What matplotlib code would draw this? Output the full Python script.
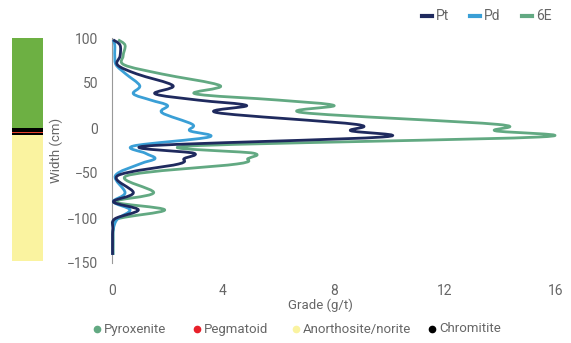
import matplotlib
matplotlib.use("Agg")
import matplotlib.pyplot as plt
from matplotlib.lines import Line2D
from matplotlib.path import Path
from matplotlib.patches import PathPatch
import numpy as np

# depth (cm) and grades (g/t)
depth = [98, 92, 80, 70, 60, 47, 38, 31, 25, 17, 4, -3, -10, -20, -28, -34, -40,
         -53, -72, -82, -91, -101, -112, -125, -141]
pt = [0.04, 0.29, 0.29, 0.2, 0.9, 2.2, 1.55, 3.1, 4.85, 3.8, 8.8, 8.6, 9.75, 1.25,
      2.95, 2.6, 2.4, 0.2, 0.77, 0.05, 0.95, 0.1, 0.03, 0.02, 0.02]
pd = [0.04, 0.1, 0.1, 0.15, 0.5, 1.0, 0.77, 1.4, 2.0, 1.8, 2.9, 2.8, 3.5, 0.77,
      1.2, 1.55, 1.0, 0.12, 0.47, 0.05, 0.65, 0.2, 0.05, 0.03, 0.03]
e6 = [0.22, 0.47, 0.4, 0.45, 1.8, 3.9, 3.0, 6.0, 8.0, 6.9, 13.9, 13.8, 15.4, 2.8,
      5.1, 4.9, 4.5, 0.54, 1.5, 0.1, 1.9, 0.2, 0.05, 0.04, 0.04]

# lithology column
layer_rock = ["Pyroxenite", "Chromitite", "Pegmatoid", "Chromitite", "Anorthosite/norite"]
layer_top = [100, 0, -4, -5.5, -8]
layer_base = [0, -4, -5.5, -8, -148]

x_ticks = [0, 4, 8, 12, 16]
y_ticks = [100, 50, 0, -50, -100, -150]

C_PT, C_PD, C_6E = "#1f2a5e", "#3a9fd6", "#62a982"
ROCK_COL = {"Pyroxenite": "#6db043", "Pegmatoid": "#e8412c",
            "Anorthosite/norite": "#faf3a0", "Chromitite": "#000000"}
LEG_COL = {"Pyroxenite": "#62a982", "Pegmatoid": "#e8202a",
           "Anorthosite/norite": "#faf3a0", "Chromitite": "#000000"}
GREY = "#666666"


def smooth_line(ax, xs, ys, color, z):
    """Excel-style smoothed line: cubic Bezier through each data point."""
    p = np.column_stack([xs, ys]).astype(float)
    verts, codes = [p[0]], [Path.MOVETO]
    n = len(p)
    for i in range(n - 1):
        prev = p[max(i - 1, 0)]
        nxt = p[min(i + 2, n - 1)]
        verts += [p[i] + (p[i + 1] - prev) / 6, p[i + 1] - (nxt - p[i]) / 6, p[i + 1]]
        codes += [Path.CURVE4] * 3
    ax.add_patch(PathPatch(Path(verts, codes), fill=False, edgecolor=color,
                           lw=2.0, joinstyle="round", zorder=z, clip_on=False))


plt.rcParams["font.family"] = ["Roboto", "DejaVu Sans"]

W, H = 571, 343
fig = plt.figure(figsize=(W / 100, H / 100), dpi=100)
ax = fig.add_axes([112 / W, 1 - 263 / H, 444 / W, 225 / H])

smooth_line(ax, pt, depth, C_PT, 3)
smooth_line(ax, pd, depth, C_PD, 2)
smooth_line(ax, e6, depth, C_6E, 1)

ax.set_xlim(0, 16)
ax.set_ylim(-150, 100)
ax.set_xticks(x_ticks)
ax.set_yticks(y_ticks)
for s in ["top", "right", "bottom"]:
    ax.spines[s].set_visible(False)
ax.spines["left"].set_color("#999999")
ax.spines["left"].set_zorder(0)
ax.tick_params(length=0, labelsize=10, labelcolor=GREY)
ax.tick_params(axis="x", pad=15)
ax.tick_params(axis="y", pad=10)
ax.set_ylabel("Width (cm)", color=GREY, fontsize=9.5)
ax.yaxis.set_label_coords((63 - 112) / 444, 0.5)
fig.text(320 / W, 1 - 305 / H, "Grade (g/t)", color=GREY, fontsize=9.5,
         ha="center", va="center")

# lithology column
axc = fig.add_axes([12 / W, 1 - 263 / H, 31 / W, 225 / H], sharey=ax)
for rock, top, base in zip(layer_rock, layer_top, layer_base):
    axc.bar(0, top - base, bottom=base, width=1, color=ROCK_COL[rock], lw=0)
axc.set_xlim(-0.5, 0.5)
axc.axis("off")

# top legend (series)
y_top = 1 - 16 / H
for x, c, lab in [(427, C_PT, "Pt"), (475, C_PD, "Pd"), (527, C_6E, "6E")]:
    fig.add_artist(Line2D([(x - 5) / W, (x + 5) / W], [y_top, y_top],
                          color=c, lw=3, transform=fig.transFigure))
    fig.text((x + 9) / W, y_top, lab, color=GREY, fontsize=10, va="center")

# bottom legend (lithology)
y_bot = 1 - 329 / H
for x, lab in [(97, "Pyroxenite"), (197, "Pegmatoid"),
               (296, "Anorthosite/norite"), (432, "Chromitite")]:
    fig.add_artist(Line2D([x / W], [y_bot], ls="", marker="o", ms=4.5,
                          color=LEG_COL[lab], transform=fig.transFigure))
    fig.text((x + 7) / W, y_bot, lab, color=GREY, fontsize=9.5, va="center")

fig.savefig("out.png", dpi=100)
